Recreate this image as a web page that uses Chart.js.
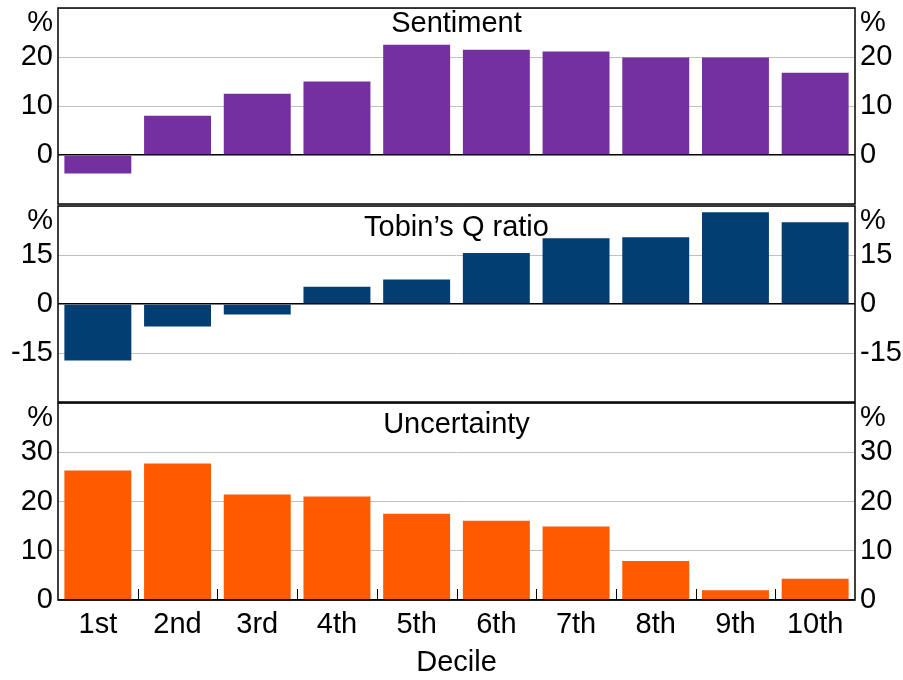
<!DOCTYPE html>
<html>
<head>
<meta charset="utf-8">
<script src="https://cdn.jsdelivr.net/npm/chart.js@4.4.1/dist/chart.umd.min.js"></script>
<style>
  body { margin: 0; background: #fff; width: 903px; height: 680px; position: relative; overflow: hidden; }
  canvas { position: absolute; left: 0; }
</style>
</head>
<body>
<canvas id="c1" width="903" height="206" style="top:0"></canvas>
<canvas id="c2" width="903" height="204" style="top:200px"></canvas>
<canvas id="c3" width="903" height="280" style="top:400px"></canvas>
<script>
const deciles = ['1st', '2nd', '3rd', '4th', '5th', '6th', '7th', '8th', '9th', '10th'];
const sentiment = [-3.8, 8.0, 12.5, 15.0, 22.5, 21.5, 21.1, 19.9, 19.9, 16.8];
const tobinsQ = [-17.3, -6.9, -3.2, 5.3, 7.5, 15.6, 20.1, 20.4, 28.1, 25.0];
const uncertainty = [26.3, 27.7, 21.4, 21.0, 17.5, 16.1, 14.9, 7.9, 2.0, 4.3];

const sentimentTicks = [0, 10, 20];
const tobinsTicks = [-15, 0, 15];
const uncertaintyTicks = [0, 10, 20, 30];

const FONT = '"Liberation Sans", Arial, sans-serif';
const SIZE = 29;

// marco, título, "%" y marcas del eje x dentro del panel
const panelPlugin = {
  id: 'panel',
  afterDraw(chart) {
    const o = chart.options.plugins.panel;
    const a = chart.chartArea;
    const ctx = chart.ctx;
    ctx.save();
    ctx.fillStyle = '#000';
    ctx.font = SIZE + 'px ' + FONT;
    ctx.textBaseline = 'middle';
    ctx.textAlign = 'center';
    ctx.fillText(o.title, (a.left + a.right) / 2, a.top + o.titleOffset);
    ctx.textAlign = 'right';
    ctx.fillText('%', a.left - 5, a.top + 15);
    ctx.textAlign = 'left';
    ctx.fillText('%', a.right + 5, a.top + 15);

    if (o.innerTicks) {
      const xs = chart.scales.x;
      ctx.strokeStyle = '#000';
      ctx.lineWidth = 1;
      for (let i = 0; i < deciles.length - 1; i++) {
        const x = Math.round((xs.getPixelForValue(i) + xs.getPixelForValue(i + 1)) / 2) + 0.5;
        ctx.beginPath();
        ctx.moveTo(x, a.bottom);
        ctx.lineTo(x, a.bottom - 11);
        ctx.stroke();
      }
    }
    ctx.strokeStyle = '#000';
    ctx.lineWidth = 1.5;
    ctx.strokeRect(a.left, a.top, a.right - a.left, a.bottom - a.top);
    ctx.restore();
  }
};

function makePanel(id, cfg) {
  const tickOpts = {
    stepSize: cfg.step,
    autoSkip: false,
    padding: 5,
    color: '#000',
    font: { family: FONT, size: SIZE },
    callback: v => cfg.ticks.includes(v) ? String(v) : ''
  };
  const xAxis = cfg.showX ? {
    display: true,
    grid: { display: false, drawTicks: false },
    border: { display: false },
    ticks: { color: '#000', font: { family: FONT, size: SIZE }, padding: 8, maxRotation: 0 },
    title: { display: true, text: 'Decile', color: '#000', font: { family: FONT, size: SIZE }, padding: { top: 0, bottom: 0 } },
    afterFit: s => { s.height = 80; }
  } : { display: false };

  return new Chart(document.getElementById(id), {
    type: 'bar',
    data: {
      labels: deciles,
      datasets: [{
        data: cfg.values,
        backgroundColor: cfg.color,
        borderWidth: 0,
        barPercentage: 0.84,
        categoryPercentage: 1.0,
        yAxisID: 'y'
      }]
    },
    options: {
      responsive: false,
      animation: false,
      layout: { padding: { top: cfg.padTop, bottom: cfg.padBottom, left: 0, right: 0 } },
      plugins: {
        legend: { display: false },
        tooltip: { enabled: false },
        panel: { title: cfg.title, titleOffset: cfg.titleOffset, innerTicks: cfg.showX }
      },
      scales: {
        x: xAxis,
        y: {
          position: 'left',
          min: cfg.min, max: cfg.max,
          ticks: tickOpts,
          grid: {
            drawTicks: false,
            lineWidth: c => c.tick && c.tick.value === 0 ? 1.5 : 1,
            color: c => c.tick && c.tick.value === 0 ? '#000' : '#c0c0c0'
          },
          border: { display: false },
          afterFit: s => { s.width = 58; s.paddingTop = 0; s.paddingBottom = 0; }
        },
        y2: {
          position: 'right',
          min: cfg.min, max: cfg.max,
          ticks: tickOpts,
          grid: { display: false, drawTicks: false },
          border: { display: false },
          afterFit: s => { s.width = 48; s.paddingTop = 0; s.paddingBottom = 0; }
        }
      }
    },
    plugins: [panelPlugin]
  });
}

makePanel('c1', {
  values: sentiment, color: '#7430A0', title: 'Sentiment', titleOffset: 16,
  min: -10, max: 30, step: 10, ticks: sentimentTicks, padTop: 8, padBottom: 2, showX: false
});
makePanel('c2', {
  values: tobinsQ, color: '#033E73', title: 'Tobin\u2019s Q ratio', titleOffset: 22,
  min: -30, max: 30, step: 15, ticks: tobinsTicks, padTop: 6, padBottom: 2, showX: false
});
makePanel('c3', {
  values: uncertainty, color: '#FF5A00', title: 'Uncertainty', titleOffset: 22,
  min: 0, max: 40, step: 10, ticks: uncertaintyTicks, padTop: 3, padBottom: 0, showX: true
});
</script>
</body>
</html>
